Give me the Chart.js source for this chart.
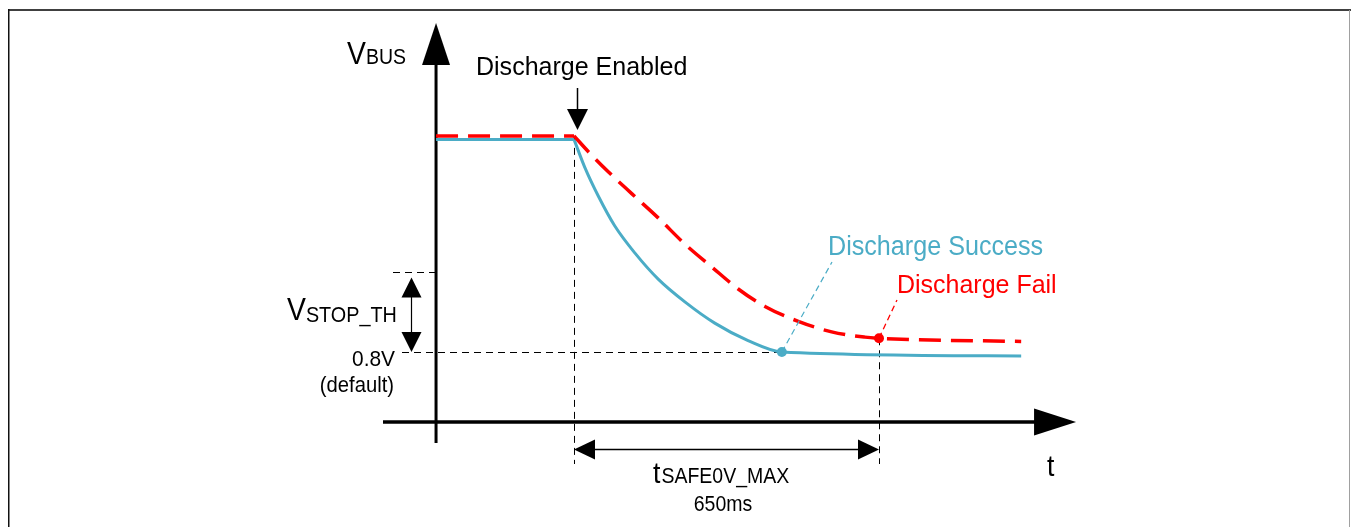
<!DOCTYPE html>
<html><head><meta charset="utf-8">
<script src="https://cdn.jsdelivr.net/npm/chart.js@4"></script>
<style>html,body{margin:0;padding:0;background:#fff;overflow:hidden}#wrap{width:1351px;height:527px;position:relative}</style>
</head><body><div id="wrap"><canvas id="c" width="1351" height="527"></canvas></div>
<script>
// ---- data (time in ms from discharge enable, voltage in V) ----
const tSuccess = [-294, 0, 23, 52, 87, 130, 180, 237, 300, 371, 443, 953];
const vSuccess = [3.23, 3.23, 2.91, 2.58, 2.24, 1.93, 1.63, 1.37, 1.13, 0.93, 0.80, 0.755];
const tFail = [-294, 0, 34, 73, 123, 180, 237, 294, 350, 407, 478, 549, 620, 650, 953];
const vFail = [3.27, 3.27, 3.07, 2.86, 2.61, 2.33, 2.03, 1.77, 1.52, 1.32, 1.15, 1.03, 0.97, 0.957, 0.92];
const successMarkIdx = 10;   // point where V reaches 0.8 V
const failMarkIdx = 13;      // point at tSAFE0V_MAX
const vStopDefault = 0.8;
const vStopTop = 1.71;
const tSafeMax = 650;
const tAxisOrigin = -294;
const tAxisEnd = 1070;
const vAxisEnd = 4.56;

const texts = {
  vbusMain: 'V', vbusSub: 'BUS',
  enabled: 'Discharge Enabled',
  success: 'Discharge Success',
  fail: 'Discharge Fail',
  vstopMain: 'V', vstopSub: 'STOP_TH',
  v08: '0.8V', vdef: '(default)',
  tAxis: 't',
  tsafeMain: 't', tsafeSub: 'SAFE0V_MAX', tsafeVal: '650ms'
};

// ---- layout ----
const W = 1351, H = 527;
const PX_T0 = 574, PX_PER_MS = 305 / 650, PX_V0 = 422, PX_PER_V = 87.5;
const BLUE = '#4bacc6', RED = '#ff0000';
const FONT = "'Liberation Sans', Arial, sans-serif";
const SX = 0.886;

function pts(ts, vs) { return ts.map((t, i) => ({ x: t, y: vs[i] })); }
const succPts = pts(tSuccess, vSuccess);
const failPts = pts(tFail, vFail);

function txt(ctx, s, x, y, size, color, align, sx) {
  sx = sx || SX;
  ctx.save();
  ctx.font = size + 'px ' + FONT;
  ctx.fillStyle = color;
  ctx.textAlign = align || 'left';
  ctx.textBaseline = 'alphabetic';
  ctx.translate(x, y);
  ctx.scale(sx, 1);
  ctx.fillText(s, 0, 0);
  const w = ctx.measureText(s).width * sx;
  ctx.restore();
  return w;
}
function line(ctx, x1, y1, x2, y2, w, color, dash) {
  ctx.save();
  ctx.beginPath();
  ctx.strokeStyle = color; ctx.lineWidth = w;
  ctx.setLineDash(dash || []);
  ctx.moveTo(x1, y1); ctx.lineTo(x2, y2); ctx.stroke();
  ctx.restore();
}
function tri(ctx, ax, ay, bx, by, cx, cy, color) {
  ctx.save();
  ctx.beginPath(); ctx.fillStyle = color;
  ctx.moveTo(ax, ay); ctx.lineTo(bx, by); ctx.lineTo(cx, cy); ctx.closePath(); ctx.fill();
  ctx.restore();
}

const diagram = {
  id: 'diagram',
  beforeDatasetsDraw(chart) {
    const ctx = chart.ctx, X = v => chart.scales.x.getPixelForValue(v), Y = v => chart.scales.y.getPixelForValue(v);
    // frame
    ctx.save();
    ctx.fillStyle = '#404040'; ctx.fillRect(8, 9, W - 8, 2);
    ctx.fillStyle = '#111'; ctx.fillRect(8, 9, 1.5, H - 9);
    ctx.fillStyle = '#a0a0a0'; ctx.fillRect(1349, 10, 1, H - 10);
    ctx.restore();
    const dash = [7, 5];
    // guide lines
    const y08 = Math.round(Y(vStopDefault)) + 0.5;
    line(ctx, 402, y08, X(tSuccess[successMarkIdx]), y08, 1, '#000', dash);
    const yTop = Math.round(Y(vStopTop)) + 0.5;
    line(ctx, 393, yTop, 441, yTop, 1, '#000', dash);
    const x0 = Math.round(X(0)) + 0.5;
    line(ctx, x0, Y(vFail[1]), x0, 464, 1, '#000', dash);
    const x650 = Math.round(X(tSafeMax)) + 0.5;
    line(ctx, x650, Y(vFail[failMarkIdx]), x650, 464, 1, '#000', dash);
    // axes
    const xa = X(tAxisOrigin), ya = Y(0);
    line(ctx, xa, 443, xa, Y(vAxisEnd) + 30, 3, '#000');
    tri(ctx, xa, Y(vAxisEnd), xa - 14, Y(vAxisEnd) + 42, xa + 14, Y(vAxisEnd) + 42, '#000');
    line(ctx, 383, ya, X(tAxisEnd) - 30, ya, 3.5, '#000');
    tri(ctx, X(tAxisEnd), ya, X(tAxisEnd) - 42, ya - 13.5, X(tAxisEnd) - 42, ya + 13.5, '#000');
  },
  afterDatasetsDraw(chart) {
    const ctx = chart.ctx, X = v => chart.scales.x.getPixelForValue(v), Y = v => chart.scales.y.getPixelForValue(v);
    // Discharge Enabled arrow
    line(ctx, 577.5, 88, 577.5, 112, 1.5, '#000');
    tri(ctx, 577.5, 130, 567, 109, 588, 109, '#000');
    // VSTOP_TH double arrow
    const yTop = Y(vStopTop) + 5, yBot = Y(vStopDefault);
    line(ctx, 411.5, yTop + 15, 411.5, yBot - 15, 1.2, '#000');
    tri(ctx, 411.5, yTop, 401.5, yTop + 20, 421.5, yTop + 20, '#000');
    tri(ctx, 411.5, yBot, 401.5, yBot - 20, 421.5, yBot - 20, '#000');
    // tSAFE double arrow
    const xl = X(0), xr = X(tSafeMax), ym = 449.5;
    line(ctx, xl + 15, ym, xr - 15, ym, 1.5, '#000');
    tri(ctx, xl, ym, xl + 21, ym - 10, xl + 21, ym + 10, '#000');
    tri(ctx, xr, ym, xr - 21, ym - 10, xr - 21, ym + 10, '#000');
    // leader lines
    line(ctx, X(tSuccess[successMarkIdx]), Y(vSuccess[successMarkIdx]), 832, 262, 1.2, BLUE, [6, 4]);
    line(ctx, X(tFail[failMarkIdx]), Y(vFail[failMarkIdx]), 897, 300, 1.3, RED, [6, 4]);
    // texts
    let w = txt(ctx, texts.vbusMain, 347, 64, 32, '#000');
    txt(ctx, texts.vbusSub, 347 + w, 64, 22, '#000');
    txt(ctx, texts.enabled, 476, 75, 26.5, '#000', 'left', 0.944);
    txt(ctx, texts.success, 828, 255, 26.8, BLUE, 'left', 0.938);
    txt(ctx, texts.fail, 897, 293, 26.3, RED, 'left', 0.95);
    w = txt(ctx, texts.vstopMain, 287, 320, 32, '#000');
    txt(ctx, texts.vstopSub, 287 + w, 322, 22, '#000', 'left', 0.9);
    txt(ctx, texts.v08, 395, 366, 22, '#000', 'right', 0.95);
    txt(ctx, texts.vdef, 394, 392, 22, '#000', 'right', 0.92);
    txt(ctx, texts.tAxis, 1047, 476, 30, '#000');
    w = txt(ctx, texts.tsafeMain, 653, 483, 30, '#000');
    txt(ctx, texts.tsafeSub, 653 + w + 1, 483, 22, '#000');
    txt(ctx, texts.tsafeVal, 723, 511, 22, '#000', 'center');
  }
};

const radii = (n, idx, r) => Array.from({ length: n }, (_, i) => i === idx ? r : 0);

new Chart(document.getElementById('c'), {
  type: 'line',
  data: {
    datasets: [
      { data: succPts.slice(0, 2), borderColor: BLUE, borderWidth: 3, pointRadius: 0, tension: 0, order: 2 },
      { data: succPts.slice(1), borderColor: BLUE, borderWidth: 3, cubicInterpolationMode: 'monotone',
        pointRadius: radii(succPts.length - 1, successMarkIdx - 1, 5), pointBackgroundColor: BLUE, pointBorderWidth: 0, order: 2 },
      { data: failPts.slice(0, 2), borderColor: RED, borderWidth: 3.5, borderDash: [22, 10], pointRadius: 0, tension: 0, order: 1 },
      { data: failPts.slice(1), borderColor: RED, borderWidth: 3.5, borderDash: [22, 10], cubicInterpolationMode: 'monotone',
        pointRadius: radii(failPts.length - 1, failMarkIdx - 1, 5), pointBackgroundColor: RED, pointBorderWidth: 0, order: 1 }
    ]
  },
  options: {
    responsive: false, animation: false, events: [],
    layout: { padding: 0 },
    plugins: { legend: { display: false }, tooltip: { enabled: false } },
    scales: {
      x: { type: 'linear', display: false, min: -PX_T0 / PX_PER_MS, max: (W - PX_T0) / PX_PER_MS },
      y: { type: 'linear', display: false, min: -(H - PX_V0) / PX_PER_V, max: PX_V0 / PX_PER_V }
    }
  },
  plugins: [diagram]
});
</script></body></html>
